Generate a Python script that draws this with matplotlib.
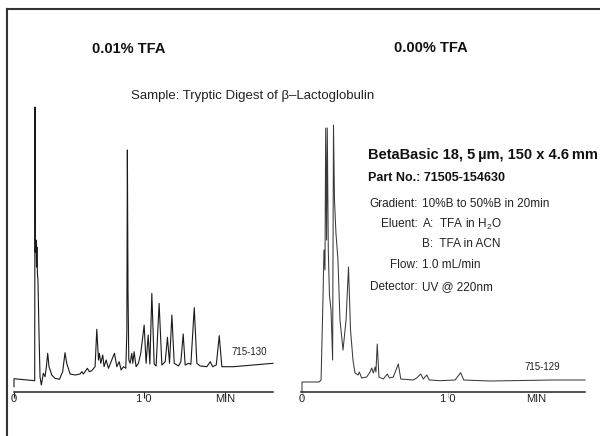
import matplotlib
matplotlib.use("Agg")
import matplotlib.pyplot as plt
from matplotlib.lines import Line2D

plt.rcParams['font.family'] = ['Liberation Sans', 'DejaVu Sans']
plt.rcParams['mathtext.fontset'] = 'custom'
plt.rcParams['mathtext.rm'] = 'Liberation Sans'

# ---- data: left chromatogram (0.01% TFA), time in min, signal in arbitrary units
left_t = [0.0, 0.0, 1.59, 1.615, 1.64, 1.70, 1.73, 1.76, 1.80, 1.84, 1.92, 2.00, 2.10,
          2.256, 2.385, 2.49, 2.59, 2.69, 2.90, 3.15, 3.49, 3.74, 3.92, 4.05, 4.31, 4.69,
          5.08, 5.21, 5.33, 5.64, 5.79, 5.97, 6.23, 6.36, 6.49, 6.56, 6.67, 6.82, 6.92,
          7.08, 7.26, 7.51, 7.72, 7.90, 8.08, 8.23, 8.41, 8.59, 8.67, 8.71, 8.76, 8.82,
          8.92, 9.05, 9.13, 9.23, 9.38, 9.56, 9.74, 10.0, 10.15, 10.31, 10.44, 10.59,
          10.77, 10.92, 11.15, 11.36, 11.62, 11.79, 11.95, 12.13, 12.31, 12.64, 12.82,
          13.0, 13.15, 13.41, 13.59, 13.85, 14.05, 14.31, 14.82, 15.08, 15.26, 15.54,
          15.77, 15.97, 16.87, 19.9]
left_s = [5.3, 13.3, 11.3, 285, 140, 152, 125, 145, 118, 112, 60, 15, 7,
          18.7, 15.3, 25.3, 38.7, 25.3, 17, 13.7, 12.7, 20.3, 39.3, 28.7, 18, 17,
          18, 20.3, 18, 23.7, 20.3, 21.3, 25.3, 62.7, 32, 38.7, 28.7, 37, 25.3,
          32, 23.7, 32, 38.7, 25.3, 30.3, 22, 25.3, 23.7, 60, 242, 100, 32,
          28.7, 38.7, 28.7, 40.3, 25.3, 28.7, 38.7, 67, 28.7, 57, 28, 98.7,
          28, 26, 88.7, 27, 30.3, 54.7, 28.7, 77, 28.7, 26, 30.3,
          58, 27, 28.7, 27.7, 84.3, 28.7, 26, 25.3, 30.3, 25.3, 27,
          56.3, 25.3, 25.3, 28.7]

# ---- data: right chromatogram (0.00% TFA)
right_t = [0.0, 0.0, 1.18, 1.32, 1.45, 1.52, 1.59, 1.64, 1.70, 1.75, 1.82, 1.90, 2.01,
           2.12, 2.18, 2.25, 2.35, 2.49, 2.63, 2.84, 3.05, 3.22, 3.36, 3.53, 3.67, 3.88,
           3.97, 4.13, 4.48, 4.71, 4.83, 4.94, 5.06, 5.12, 5.21, 5.33, 5.63, 5.91, 6.05,
           6.32, 6.67, 6.84, 7.71, 7.94, 8.22, 8.40, 8.64, 8.82, 9.56, 10.6, 10.99, 11.2,
           13.0, 17.4, 19.6]
right_s = [0, 10, 10, 12, 92, 142, 122, 264, 152, 264, 142, 97, 82,
           32, 267, 192, 159, 132, 72, 42, 72, 125, 62, 32, 19, 17,
           20, 14, 15, 20, 24, 19, 25, 20, 48, 15, 13, 18, 14,
           15, 28, 13, 12, 14, 18, 13, 17, 12, 11.3, 12, 19.3, 12,
           11, 12, 12]

left_ticks = [0, 10, 16.2]
left_ticklabels = ['0', '1 0', 'MIN']
right_ticks = [0, 10.1]
right_ticklabels = ['0', '1 0']

W, H = 600, 436
fig = plt.figure(figsize=(6.0, 4.36), dpi=100)

def px_axes(x0, x1, ybot, ytop):
    return fig.add_axes([x0 / W, 1 - ybot / H, (x1 - x0) / W, (ybot - ytop) / H])

axL = px_axes(14, 273, 392, 102)
axR = px_axes(301, 585, 392, 102)

for ax in (axL, axR):
    ax.set_ylim(0, 290)
    for s in ('left', 'right', 'top'):
        ax.spines[s].set_visible(False)
    ax.spines['bottom'].set_linewidth(1.1)
    ax.spines['bottom'].set_color('#222222')
    ax.set_yticks([])
    ax.patch.set_alpha(0)

axL.set_xlim(0, 19.9)
axR.set_xlim(-0.07, 19.6)

axL.plot(left_t, left_s, color='#1a1a1a', lw=0.8, clip_on=False)
axR.plot(right_t, right_s, color='#3a3a3a', lw=0.75, clip_on=False)

axL.set_xticks(left_ticks)
axL.set_xticklabels(left_ticklabels)
axL.tick_params(axis='x', direction='out', length=4.3, width=0.8, pad=-3.0,
                labelsize=8, colors='#222222')

axR.set_xticks(right_ticks)
axR.set_xticklabels(right_ticklabels)
axR.tick_params(axis='x', direction='out', length=4.3, width=0.6, pad=-3.0,
                labelsize=8, color='#bbbbbb', labelcolor='#222222')
axR.set_xticks([16.25], minor=True)
axR.set_xticklabels(['MIN'], minor=True)
axR.tick_params(axis='x', which='minor', length=0, pad=1.3, labelsize=8,
                labelcolor='#222222')

# run numbers
axL.text(16.7, 392 - 352, '715-130', fontsize=7, va='center', ha='left', color='#222222')
axR.text(15.4, 392 - 367, '715-129', fontsize=7, va='center', ha='left', color='#222222')

def ftext(x, y, s, **kw):
    fig.text(x / W, 1 - y / H, s, **kw)

ftext(129, 49, '0.01% TFA', fontsize=10.5, fontweight='bold', ha='center', va='center', color='#111111')
ftext(431, 48, '0.00% TFA', fontsize=10.5, fontweight='bold', ha='center', va='center', color='#111111')
ftext(253, 96, 'Sample: Tryptic Digest of β–Lactoglobulin', fontsize=9.5, ha='center',
      va='center', color='#222222')

ftext(368, 155, 'BetaBasic 18, 5\u2009µm, 150 x 4.6\u2009mm', fontsize=10.5, fontweight='bold',
      ha='left', va='center', color='#111111')
ftext(368, 178, 'Part No.: 71505-154630', fontsize=9, fontweight='bold', ha='left',
      va='center', color='#111111')

labels = ['Gradient:', 'Eluent:', '', 'Flow:', 'Detector:']
values = ['10%B to 50%B in 20min', r'A:  TFA in H$_\mathregular{2}$O', 'B:  TFA in ACN',
          '1.0 mL/min', 'UV @ 220nm']
ys = [204, 224, 244, 265, 287]
for lab, val, y in zip(labels, values, ys):
    if lab:
        ftext(418, y, lab, fontsize=8.5, ha='right', va='center', color='#222222')
    ftext(422, y, val, fontsize=8.5, ha='left', va='center', color='#222222')

# frame lines (left and top)
fig.add_artist(Line2D([7 / W, 7 / W], [0, 1 - 9 / H], transform=fig.transFigure,
                      color='#333333', lw=1.5))
fig.add_artist(Line2D([7 / W, 1], [1 - 9 / H, 1 - 9 / H], transform=fig.transFigure,
                      color='#333333', lw=1.5))

fig.savefig('out.png', dpi=100)
